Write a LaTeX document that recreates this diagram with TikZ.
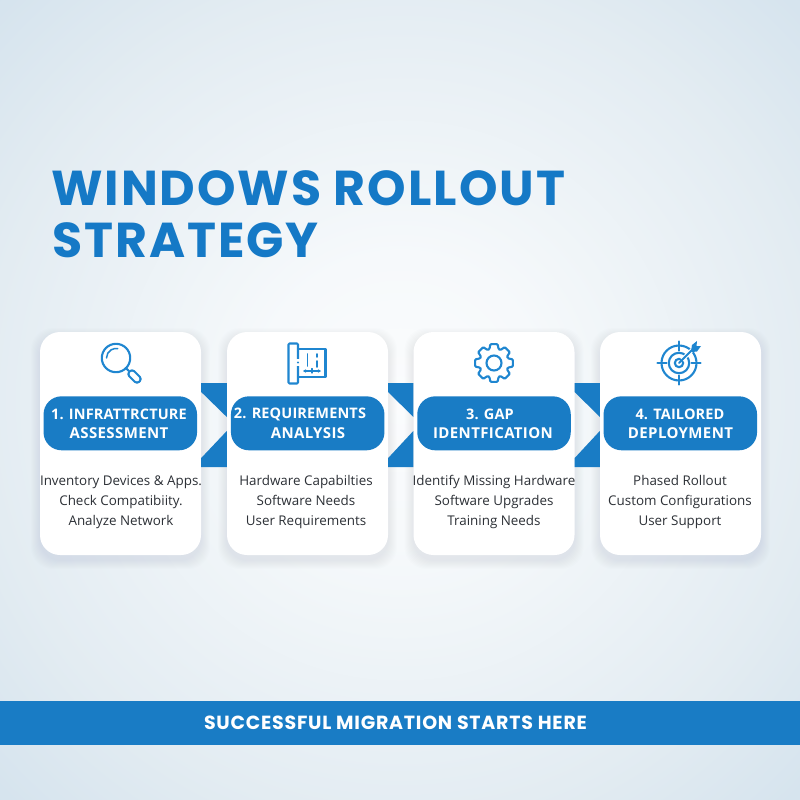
\documentclass[tikz,border=0pt]{standalone}
\usepackage{fontspec}
\usetikzlibrary{calc,arrows.meta}
\setmainfont{Open Sans}
\newfontfamily\titlefont[LetterSpace=4.0]{Poppins Bold}
\newfontfamily\pillfont[LetterSpace=1.0]{Open Sans Bold}
\newfontfamily\pillfontb[LetterSpace=2.5]{Open Sans Bold}
\newfontfamily\bandfont[LetterSpace=4.0]{Poppins Bold}
\newcommand{\pa}[1]{{\pillfont\fontsize{14.5}{20}\selectfont #1}}
\newcommand{\pb}[1]{{\pillfontb\fontsize{15}{20}\selectfont #1}}
\definecolor{brand}{HTML}{197CC5}
\definecolor{iconblue}{HTML}{1F86D0}
\definecolor{titleblue}{HTML}{1579C6}
\definecolor{bodyink}{HTML}{2C3036}
\definecolor{bgc}{HTML}{FBFCFD}
\definecolor{bgm}{HTML}{F6F9FB}
\definecolor{bgo}{HTML}{E3ECF2}
\definecolor{bge}{HTML}{D3E2ED}
\definecolor{shadowc}{HTML}{5F7F99}
\pgfdeclareradialshading{bgshade}{\pgfpoint{0bp}{0bp}}{color(0bp)=(bgc); color(9bp)=(bgm); color(26bp)=(bgo); color(37bp)=(bge); color(100bp)=(bge)}
\tikzset{
  card/.style={fill=white,rounded corners=20pt,minimum width=161pt,minimum height=223pt,inner sep=0pt},
  pill/.style={fill=brand,rounded corners=18pt,minimum width=153.5pt,minimum height=54pt,inner sep=0pt},
  pilltext/.style={text=white,align=center,inner sep=0pt},
  bodytext/.style={text=bodyink,font=\fontsize{13.4}{20.2}\selectfont,align=center,inner sep=0pt},
  icon/.style={draw=iconblue,line width=2.1pt,line cap=round,line join=round},
  band/.style={fill=brand}
}
\begin{document}
\begin{tikzpicture}[x=1pt,y=-1pt]
\useasboundingbox (0,0) rectangle (800,800);
\shade[shading=bgshade] (0,0) rectangle (800,800);
% soft shadows
\foreach \cx in {120.5,307.5,494,680.5}{
  \foreach \g in {1,...,9}{
    \fill[shadowc,opacity=0.013,rounded corners=22pt] (\cx-80.5-\g,332-\g+5) rectangle (\cx+80.5+\g,555+\g+5);
  }
}
% cards
\node[card] (c1) at (120.5,443.5) {};
\node[card] (c2) at (307.5,443.5) {};
\node[card] (c3) at (494,443.5) {};
\node[card] (c4) at (680.5,443.5) {};
% connector heights
\coordinate (bt) at (0,383);
\coordinate (d1) at (0,392);
\coordinate (a1) at (0,417);
\coordinate (a2) at (0,431);
\coordinate (d2) at (0,458);
\coordinate (bb) at (0,467);
\foreach \l/\r in {c1/c2,c2/c3,c3/c4}{
  \fill[band] (\l.east |- bt) -- (\r.west |- bt) -- (\r.west |- a1) -- (\l.east |- d1) -- cycle;
  \fill[band] (\l.east |- bb) -- (\r.west |- bb) -- (\r.west |- a2) -- (\l.east |- d2) -- cycle;
}
% pills
\node[pill] (p1) at (120.3,423.3) {};
\node[pill] (p2) at (307.7,423.3) {};
\node[pill] (p3) at (494,423.3) {};
\node[pill] (p4) at (680.3,423.3) {};
\node[pilltext] (pt1a) at (119,414) {\pa{1. INFRATTRCTURE}};
\node[pilltext] (pt1b) at (119,433.5) {\pb{ASSESSMENT}};
\node[pilltext] (pt2a) at (300,414) {\pa{2. REQUIREMENTS}};
\node[pilltext] (pt2b) at (308,433.5) {\pb{ANALYSIS}};
\node[pilltext] (pt3a) at (490,414) {\pa{3. GAP}};
\node[pilltext] (pt3b) at (493,433.5) {\pb{IDENTFICATION}};
\node[pilltext] (pt4a) at (680,414) {\pa{4. TAILORED}};
\node[pilltext] (pt4b) at (680.5,433.5) {\pb{DEPLOYMENT}};
% body
\node[bodytext] (t1) at (121,502) {Inventory Devices \& Apps.\\Check Compatibiity.\\Analyze Network};
\node[bodytext] (t2) at (306,502) {Hardware Capabilties\\Software Needs\\User Requirements};
\node[bodytext] (t3) at (494,502) {Identify Missing Hardware\\Software Upgrades\\Training Needs};
\node[bodytext] (t4) at (680,502) {Phased Rollout\\Custom Configurations\\User Support};
% title
\node[anchor=base west,inner sep=0pt,text=titleblue,font=\titlefont\fontsize{49}{50}\selectfont] (title1) at (51,205) {WINDOWS ROLLOUT};
\node[anchor=base west,inner sep=0pt,text=titleblue,font=\titlefont\fontsize{49}{50}\selectfont] (title2) at (52,257) {STRATEGY};
% bottom banner
\node[fill=brand,minimum width=800pt,minimum height=44pt,inner sep=0pt] (banner) at (400,723) {};
\node[text=white,font=\bandfont\fontsize{19}{20}\selectfont,inner sep=0pt] (bannertext) at (395.5,723) {SUCCESSFUL MIGRATION STARTS HERE};
% magnifier
\draw[icon] (116,358) circle (14.2);
\draw[icon,line width=1.5pt] (106.5,358) arc (180:280:9.5);
\draw[icon] (125.6,367.8) -- (128.5,370.7);
\draw[icon,rounded corners=3.2pt] (127,374) -- (132,369) -- (142,379) -- (137,384) -- cycle;
% plan icon
\draw[icon] (298,349) -- (325.5,349) -- (325.5,377) -- (298,377);
\draw[icon,rounded corners=1pt] (288.5,343.5) rectangle (298,383.5);
\fill[white] (296,359) rectangle (300,366);
\fill[iconblue] (298,362.5) circle (1.2);
\draw[icon,line width=1.7pt] (307.5,354) -- (307.5,366);
\draw[icon,line width=1.7pt] (317,354) -- (317,357);
\draw[icon,line width=1.7pt] (317,361) -- (317,367);
\draw[icon,line width=1.3pt,{Stealth[length=3pt,width=3.5pt]}-{Stealth[length=3pt,width=3.5pt]}] (303,371) -- (321,371);
\draw[icon,line width=1.3pt] (312,368.5) -- (312,373);
% gear
\begin{scope}[shift={(494,363)}]
\draw[icon,rounded corners=1pt] (-22.5+4:14.5)
 \foreach \a in {0,45,...,315}{
   -- (\a-11:19.2) -- (\a+11:19.2) -- (\a+22.5-4:14.5) -- (\a+22.5+4:14.5)
 } -- cycle;
\draw[icon] (0,0) circle (7.5);
\end{scope}
% target
\begin{scope}[shift={(679,363)}]
\draw[icon] (0,0) circle (17.5);
\draw[icon] (0,0) circle (10.2);
\draw[icon] (0,0) circle (4.2);
\draw[icon] (-21.5,0) -- (-12.5,0);
\draw[icon] (12.5,0) -- (21.5,0);
\draw[icon] (0,-21.5) -- (0,-12.5);
\draw[icon] (0,12.5) -- (0,21.5);
\draw[white,line width=4pt] (3,-3) -- (15,-15);
\draw[icon] (0,0) -- (13,-13);
\fill[iconblue] (12,-12) -- (13,-18) -- (18,-22) -- (17.5,-17) -- (22,-17) -- (18,-11.5) -- (13,-11) -- cycle;
\end{scope}
\end{tikzpicture}
\end{document}
